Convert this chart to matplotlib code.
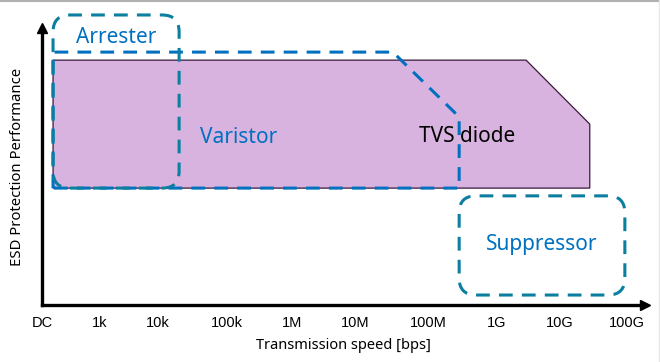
import matplotlib.pyplot as plt
import matplotlib.patches as mpatches

plt.rcParams['font.family'] = ['Noto Sans', 'DejaVu Sans']

# Положения подписей по оси X (в декадах, DC = 0)
tick_labels = ["DC", "1k", "10k", "100k", "1M", "10M", "100M", "1G", "10G", "100G"]
tick_pos = [0.0, 0.89, 1.78, 2.85, 3.85, 4.82, 5.95, 7.0, 7.97, 9.0]

# Области (x в декадах, y в условных единицах 0..10)
tvs_x = [0.17, 0.17, 7.45, 8.43, 8.43]
tvs_y = [4.22, 8.84, 8.84, 6.53, 4.22]

varistor_x = [0.17, 0.17, 5.40, 6.42, 6.42, 0.17]
varistor_y = [4.22, 9.13, 9.13, 6.79, 4.22, 4.22]

arrester_box = (0.17, 4.22, 2.11, 10.47)     # x0, y0, x1, y1
suppressor_box = (6.42, 0.36, 8.97, 3.94)

labels = ["Arrester", "Varistor", "TVS diode", "Suppressor"]
label_x = [1.14, 3.03, 6.55, 7.69]
label_y = [9.64, 6.03, 6.10, 2.20]
label_colors = ["#0070c0", "#0070c0", "black", "#0070c0"]

blue = "#0070c0"
teal = "#0a7f9f"

fig = plt.figure(figsize=(6.6, 3.62), dpi=100)
ax = fig.add_axes([42 / 660, 57 / 362, (645 - 42) / 660, (305 - 28) / 362])
ax.set_xlim(0.015, 9.28)
ax.set_ylim(0, 10)

# Заливка TVS-диода
ax.fill(tvs_x, tvs_y, facecolor="#d9b3e0", edgecolor="#3a1a3a", linewidth=0.9, zorder=2)

# Варистор - пунктир
ax.plot(varistor_x, varistor_y, color=blue, linewidth=2.2, dashes=(4.5, 3), zorder=3)

# Скруглённые рамки
mut = 65 / 27.7
for (x0, y0, x1, y1) in [arrester_box, suppressor_box]:
    box = mpatches.FancyBboxPatch((x0, y0), x1 - x0, y1 - y0,
                                  boxstyle="round,pad=0,rounding_size=0.26",
                                  mutation_aspect=mut, facecolor="none",
                                  edgecolor=teal, linewidth=2.2,
                                  linestyle=(0, (4.5, 3)), clip_on=False, zorder=4)
    ax.add_patch(box)

for t, x, y, c in zip(labels, label_x, label_y, label_colors):
    ax.text(x, y, t, color=c, fontsize=15, fontweight="medium",
            ha="center", va="center", zorder=5)

# Оси со стрелками
for s in ["top", "right"]:
    ax.spines[s].set_visible(False)
ax.spines["left"].set_linewidth(2.4)
ax.spines["bottom"].set_linewidth(2.4)
ax.plot(1, 0, ">k", markersize=7, transform=ax.transAxes, clip_on=False)
ax.plot(0, 1, "^k", markersize=7, transform=ax.transAxes, clip_on=False)

ax.set_xticks(tick_pos)
ax.set_xticklabels(tick_labels, fontsize=10.5, family="Liberation Sans")
ax.tick_params(axis="x", length=0, pad=8)
ax.set_yticks([])
ax.set_xlabel("Transmission speed [bps]", fontsize=10.5, fontweight="medium", labelpad=6)
ax.set_ylabel("ESD Protection Performance", fontsize=10.7, fontweight="medium", labelpad=12)

# Серая рамка рисунка
fig.add_artist(plt.Line2D([0, 1], [0.997, 0.997], color="#b0b0b0", linewidth=1.5))
fig.add_artist(plt.Line2D([0.998, 0.998], [0, 1], color="#e6e6e6", linewidth=1))

fig.savefig("out.png", dpi=100)
